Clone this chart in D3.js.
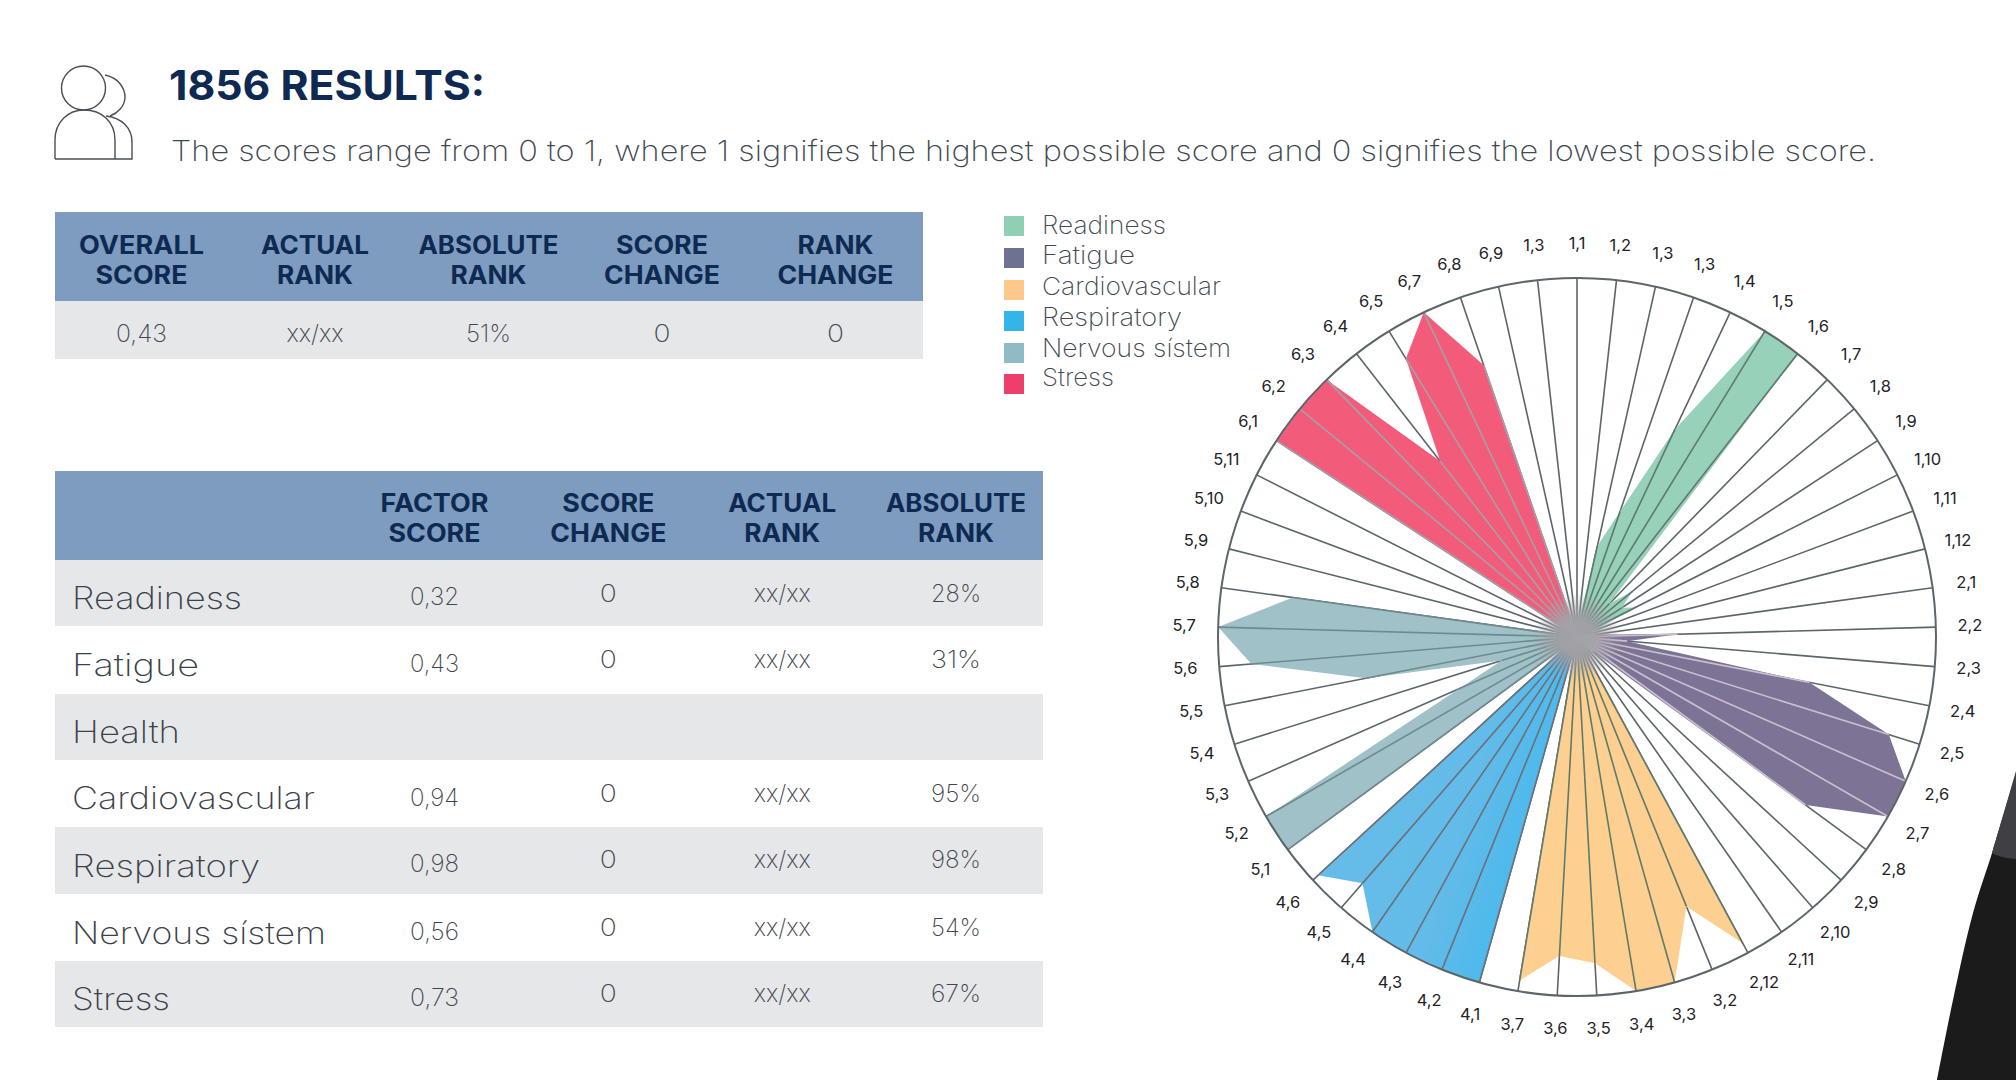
<!DOCTYPE html>
<html><head><meta charset="utf-8">
<script src="https://cdn.jsdelivr.net/npm/d3@7"></script>
<style>html,body{margin:0;padding:0;background:#fff;overflow:hidden}svg{display:block}text{font-family:Inter,"Open Sans",sans-serif}</style>
</head><body><svg id="c" width="2016" height="1080"></svg>
<script>
// ---- data ----
const spokeLabels = ["1,1","1,2","1,3","1,3","1,4","1,5","1,6","1,7","1,8","1,9","1,10","1,11","1,12","2,1","2,2","2,3","2,4","2,5","2,6","2,7","2,8","2,9","2,10","2,11","2,12","3,2","3,3","3,4","3,5","3,6","3,7","4,1","4,2","4,3","4,4","4,5","4,6","5,1","5,2","5,3","5,4","5,5","5,6","5,7","5,8","5,9","5,10","5,11","6,1","6,2","6,3","6,4","6,5","6,7","6,8","6,9","1,3"];
// values are read per spoke, listed as [spoke label index, value]
const readiness   = [[1,.05],[2,.26],[3,.37],[4,.64],[5,1],[6,1],[7,.13],[8,.2],[9,.15],[10,.18],[11,.05]];
const fatigue     = [[13,.05],[14,.28],[15,.14],[16,.66],[17,.91],[18,1],[19,1],[20,.79],[21,.06]];
const cardio      = [[24,.97],[25,.81],[26,1],[27,1],[28,.91],[29,.89],[30,.97]];
const respiratory = [[31,1],[32,1],[33,1],[34,1],[35,.91],[36,.98]];
const nervous     = [[37,1],[38,1],[39,.36],[40,.22],[41,.6],[42,.91],[43,1],[44,.8]];
const stress      = [[48,1],[49,1],[50,1],[51,.62],[52,.91],[53,1],[54,.8]];
const legendNames = ["Readiness","Fatigue","Cardiovascular","Respiratory","Nervous sístem","Stress"];
const overallHead = [["OVERALL","SCORE"],["ACTUAL","RANK"],["ABSOLUTE","RANK"],["SCORE","CHANGE"],["RANK","CHANGE"]];
const overallVals = ["0,43","xx/xx","51%","0","0"];
const factorHead  = [["FACTOR","SCORE"],["SCORE","CHANGE"],["ACTUAL","RANK"],["ABSOLUTE","RANK"]];
const factorNames = ["Readiness","Fatigue","Health","Cardiovascular","Respiratory","Nervous sístem","Stress"];
const factorScore = ["0,32","0,43","","0,94","0,98","0,56","0,73"];
const factorChange= ["0","0","","0","0","0","0"];
const factorActual= ["xx/xx","xx/xx","","xx/xx","xx/xx","xx/xx","xx/xx"];
const factorAbs   = ["28%","31%","","95%","98%","54%","67%"];
const titleText = "1856 RESULTS:";
const subText = "The scores range from 0 to 1, where 1 signifies the highest possible score and 0 signifies the lowest possible score.";

// ---- styles ----
const allSeries = [readiness,fatigue,cardio,respiratory,nervous,stress];
const fills  = ["#97d1b9","#7d7495","#fdd092","url(#respFill)","#a0c1c7","#f25c7a"];
const swatch = ["#8fcfb4","#6f7193","#fcc98a","#33b5ea","#8fbcc4","#ee3f6c"];
const tints  = ["#5d7a6c","#cdbfd0","#5f7a68","#6c7078","#6f8a8e","#a5a0a6"];
const HEAD="#7d9cbf", ROW="#e6e7e9", NAVY="#0e2a52", GREY="#3f464e";
const widths = {OVERALL:125,ACTUAL:108,ABSOLUTE:140,SCORE:92,RANK:76,CHANGE:116,FACTOR:108,
  "xx/xx":57,"0":17};

const svg = d3.select("#c");
function T(g,x,y,s,o={}){
  const n = g.append("text").attr("x",x).attr("y",y).text(s)
    .attr("font-size",o.size||24).attr("font-weight",o.weight||200)
    .attr("fill",o.fill||GREY).attr("text-anchor",o.anchor||"middle")
    .attr("dominant-baseline",o.base||"central");
  if(o.w) n.attr("textLength",o.w).attr("lengthAdjust","spacingAndGlyphs");
  return n;
}
const defs = svg.append("defs");
const gr = defs.append("radialGradient").attr("id","hub");
gr.append("stop").attr("offset","0%").attr("stop-color","#a2a2a8").attr("stop-opacity",1);
gr.append("stop").attr("offset","38%").attr("stop-color","#a2a2a8").attr("stop-opacity",.95);
gr.append("stop").attr("offset","100%").attr("stop-color","#a2a2a8").attr("stop-opacity",0);
const rf = defs.append("linearGradient").attr("id","respFill").attr("x1",0).attr("y1",.2).attr("x2",1).attr("y2",.6);
rf.append("stop").attr("offset","0%").attr("stop-color","#68bde8");
rf.append("stop").attr("offset","60%").attr("stop-color","#62bbe9");
rf.append("stop").attr("offset","100%").attr("stop-color","#3bb8ee");

// ---- dark corner shape ----
const edge = d3.line().curve(d3.curveCatmullRom);
const corner = [[2016,773],[1993,850],[1973,913],[1953,1000],[1937,1080]];
svg.append("path").attr("fill","#1b1b1b").attr("d",edge(corner)+"L2016,1080Z");
svg.append("path").attr("fill","#403f44").attr("d","M2016,771L1992,853Q2000,858 2016,859Z");

// ---- header ----
const ic = svg.append("g").attr("fill","none").attr("stroke","#4a4f55").attr("stroke-width",1.4);
ic.append("path").attr("d","M105,75C120,78 125,90 125,97C125,106 118,113 110,116");
ic.append("ellipse").attr("cx",83.5).attr("cy",88).attr("rx",22).attr("ry",22);
ic.append("path").attr("d","M55,159V140C55,122 68,110 84,110C102,110 115,122 115,140V159");
ic.append("path").attr("d","M106,116C122,118 132,128 132,142V159H55");
T(svg,169,85,titleText,{size:41,weight:700,fill:NAVY,anchor:"start",w:316});
T(svg,171,150,subText,{size:29,fill:"#3f4851",anchor:"start",w:1705});

// ---- overall table ----
const t1 = svg.append("g");
t1.append("rect").attr("x",55).attr("y",212).attr("width",868).attr("height",89).attr("fill",HEAD);
t1.append("rect").attr("x",55).attr("y",301).attr("width",868).attr("height",58).attr("fill",ROW);
const x1 = d3.scalePoint().domain(d3.range(5)).range([141.5,835.5]);
overallHead.forEach((h,i)=>h.forEach((s,j)=>T(t1,x1(i),245+j*30,s,{size:25,weight:700,fill:NAVY,w:widths[s]})));
overallVals.forEach((s,i)=>T(t1,x1(i),333,s,{size:24,w:widths[s]||({"0,43":51,"51%":45})[s]}));

// ---- factor table ----
const t2 = svg.append("g");
const rowEdges = [560,626,694,760,827,894,961,1027];
t2.append("rect").attr("x",55).attr("y",471).attr("width",988).attr("height",89).attr("fill",HEAD);
factorNames.forEach((n,i)=>{ if(i%2==0) t2.append("rect").attr("x",55).attr("y",rowEdges[i]).attr("width",988).attr("height",rowEdges[i+1]-rowEdges[i]).attr("fill",ROW); });
const x2 = d3.scalePoint().domain(d3.range(4)).range([434.5,956]);
factorHead.forEach((h,i)=>h.forEach((s,j)=>T(t2,x2(i),502.5+j*30,s,{size:25,weight:700,fill:NAVY,w:widths[s]})));
const nameW = [170,127,108,243,188,254,98];
const nameY = [597,664,731,797,865,932,998];
const scoreY= [596,663,0,797,863,931,997];
const rankY = [593,659,0,793,859,927,993];
factorNames.forEach((n,i)=>T(t2,72,nameY[i],n,{size:31,anchor:"start",fill:"#3a4149",w:nameW[i]}));
[factorScore,factorChange,factorActual,factorAbs].forEach((col,c)=>col.forEach((s,i)=>{
  if(s) T(t2,x2(c),c==0?scoreY[i]:rankY[i],s,{size:24,w:widths[s]||(c==0?49:50)});
}));

// ---- legend ----
const lg = svg.append("g");
const lgY = [226,258,290,321,353,384], lgT=[225,255,286,317,348,377], lgW=[124,93,179,140,189,72];
legendNames.forEach((n,i)=>{
  lg.append("rect").attr("x",1004).attr("y",lgY[i]-10).attr("width",20).attr("height",20).attr("fill",swatch[i]);
  T(lg,1042,lgT[i],n,{size:25,anchor:"start",fill:"#414952",w:lgW[i]});
});

// ---- radar ----
const cx=1577, cy=637, R=359;
const g = svg.append("g").attr("transform",`translate(${cx},${cy})`);
const ang = d3.scaleLinear().domain([0,spokeLabels.length]).range([0,2*Math.PI]);
const rad = d3.scaleLinear().domain([0,1]).range([0,R]);
const P = (k,v)=>d3.pointRadial(ang(k),rad(v));

const radial = d3.lineRadial().angle(d=>ang(d[0])).radius(d=>rad(d[1])).curve(d3.curveLinearClosed);
spokeLabels.forEach((_,k)=>{
  const p=P(k,1);
  g.append("line").attr("x2",p[0]).attr("y2",p[1]).attr("stroke","#5c6569").attr("stroke-width",1.6);
});
allSeries.forEach((s,i)=>{
  // the polygon returns to the centre on the spokes either side of its run of values
  const run = [[s[0][0]-1,0],...s,[s[s.length-1][0]+1,0]];
  g.append("path").attr("d",radial(run)).attr("fill",fills[i]);
  s.forEach(d=>{
    const p=P(d[0],d[1]);
    g.append("line").attr("x2",p[0]).attr("y2",p[1]).attr("stroke",tints[i]).attr("stroke-width",1.6);
  });
});
g.append("circle").attr("r",R).attr("fill","none").attr("stroke","#5c6569").attr("stroke-width",2);
g.append("circle").attr("r",44).attr("fill","url(#hub)");
spokeLabels.forEach((s,k)=>{
  const a=ang(k), r=R+34;
  T(g,Math.sin(a)*r,-Math.cos(a)*r-1,s,{size:16.5,weight:400,fill:"#1f2328"});
});
</script></body></html>
